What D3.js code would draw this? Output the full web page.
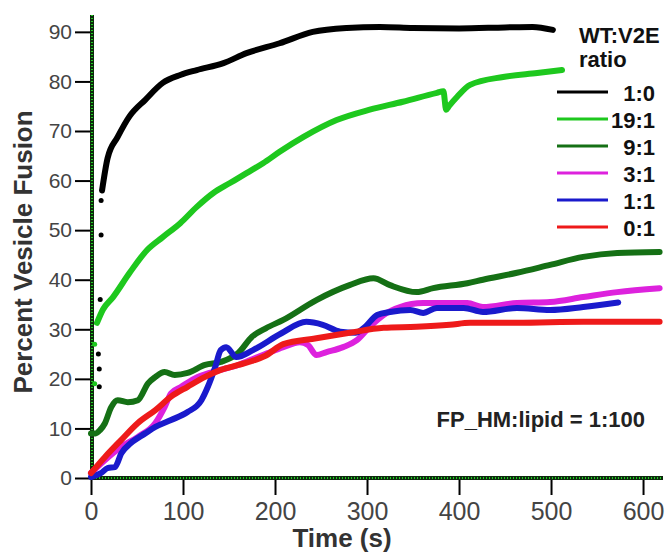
<!DOCTYPE html>
<html>
<head>
<meta charset="utf-8">
<script src="https://cdn.jsdelivr.net/npm/d3@7"></script>
<style>
  body { margin: 0; background: #fff; }
  svg { display: block; font-family: "Liberation Sans", Arial, sans-serif; }
</style>
</head>
<body>
<svg id="chart" width="667" height="555"></svg>
<script>
// fusion curves, [time (s), percent]
let ratio10 = [[12,58],[18,64.5],[29,68.8],[42,73],[59,76.3],[78,79.7],[97,81.3],[115,82.3],[144,83.7],[169,85.7],[205,87.7],[241,90],[278,90.8],[314,91],[350,90.8],[400,90.7],[450,90.9],[480,91],[502,90.4]];
let ratio191 = [[6.5,31.3],[13,34],[24,36.5],[42,41.4],[61,46],[78,48.6],[97,51.4],[115,54.7],[133,57.5],[151,59.5],[169,61.5],[187,63.5],[205,65.8],[231,68.8],[267,72.2],[303,74.3],[339,75.9],[376,77.7],[383,78],[386,74.3],[389,75],[398,76.9],[412,79.3],[448,80.9],[485,81.7],[512,82.3]];
let ratio91 = [[0,9],[5,9],[10,9.7],[15,11],[22,14.3],[29,15.7],[40,15.3],[51,15.7],[62,19.1],[70,20.4],[80,21.4],[91,20.8],[105,21.2],[124,22.8],[141,23.4],[160,25.2],[175,28.5],[190,30.2],[209,31.9],[245,35.9],[281,38.9],[307,40.3],[325,38.9],[354,37.5],[372,38.3],[409,39.3],[426,40],[463,41.4],[499,43],[535,44.6],[572,45.4],[618,45.6]];
let ratio31 = [[0,1],[15,3.6],[33,6.3],[51,8.3],[70,11.1],[80,14.3],[87,17.1],[98,18.4],[116,20.4],[141,21.8],[160,22.8],[176,24],[192,25.2],[209,26.4],[227,27.4],[236,26.8],[245,24.8],[256,25.4],[274,26.4],[289,27.8],[303,30.5],[318,32.9],[336,34.5],[361,35.3],[390,35.3],[409,35.3],[426,34.5],[463,35.3],[499,35.5],[535,36.5],[572,37.5],[618,38.3]];
let ratio11 = [[0,0.2],[11,1],[18,2],[26,2.2],[33,5],[43,7],[59,9],[70,10.3],[87,11.7],[105,13.3],[120,15.7],[127,18.4],[135,22.4],[141,25.8],[147,26.4],[158,24.4],[176,25.8],[207,29.2],[234,31.5],[252,30.9],[271,29.5],[288,29.3],[298,30.5],[311,32.9],[325,33.5],[347,33.9],[361,33.3],[376,34.3],[405,34.3],[426,33.5],[463,34.3],[499,33.9],[535,34.5],[573,35.4]];
let ratio01 = [[0,1],[15,4.2],[33,7.7],[51,11.1],[70,13.7],[87,16.4],[105,18.4],[124,20.4],[141,21.8],[160,22.8],[175,23.6],[189,24.6],[209,27],[245,28.2],[281,29.3],[318,30.3],[354,30.5],[390,30.9],[412,31.3],[463,31.3],[535,31.5],[618,31.5]];

// stray early points before the traces settle
let blackDots = [[9,18.4],[9,22],[8,25],[10,36],[11,49],[11,56]];
let greenDots = [[4,19],[4,27]];

let ratioLabels = ['1:0', '19:1', '9:1', '3:1', '1:1', '0:1'];
let ratioColors = ['#000000', '#1ec81e', '#157015', '#dd22dd', '#1a1acc', '#ee1a1a'];
let yTicks = [0, 10, 20, 30, 40, 50, 60, 70, 80, 90];
let xTicks = [0, 100, 200, 300, 400, 500, 600];

let seriesData = [ratio10, ratio191, ratio91, ratio31, ratio11, ratio01];

let svg = d3.select('#chart');

let x = d3.scaleLinear().domain([0, 621.7]).range([91, 663]);
let y = d3.scaleLinear().domain([0, 93.4]).range([478, 15]);

// axes
let yAxis = d3.axisLeft(y)
  .tickValues(yTicks)
  .tickSize(17)
  .tickSizeOuter(0)
  .tickPadding(3);

let xAxis = d3.axisBottom(x)
  .tickValues(xTicks)
  .tickSize(17)
  .tickSizeOuter(0)
  .tickPadding(7);

let gy = svg.append('g')
  .attr('transform', 'translate(92,0)')
  .call(yAxis);
gy.select('.domain').remove();
gy.selectAll('.tick line').attr('stroke', '#000').attr('stroke-width', 2);
gy.selectAll('.tick text')
  .attr('fill', '#444')
  .style('font-size', '21px');

let gx = svg.append('g')
  .attr('transform', 'translate(0,478)')
  .call(xAxis);
gx.select('.domain').remove();
gx.selectAll('.tick line').attr('stroke', '#000').attr('stroke-width', 2);
gx.selectAll('.tick text')
  .attr('fill', '#444')
  .style('font-size', '25px');

// axis lines, dark with green dots like the original
let axisLines = [
  {x1: 92, y1: 15, x2: 92, y2: 480},
  {x1: 90, y1: 478, x2: 663, y2: 478}
];
svg.selectAll('.axis-line')
  .data(axisLines)
  .enter()
  .append('line')
  .attr('class', 'axis-line')
  .attr('x1', d => d.x1).attr('y1', d => d.y1)
  .attr('x2', d => d.x2).attr('y2', d => d.y2)
  .attr('stroke', '#0c2a0c')
  .attr('stroke-width', 4);
svg.selectAll('.axis-dots')
  .data(axisLines)
  .enter()
  .append('line')
  .attr('class', 'axis-dots')
  .attr('x1', d => d.x1).attr('y1', d => d.y1)
  .attr('x2', d => d.x2).attr('y2', d => d.y2)
  .attr('stroke', '#22cc22')
  .attr('stroke-width', 2)
  .attr('stroke-dasharray', '1,2');

// axis titles
svg.append('text')
  .attr('transform', 'translate(32,252) rotate(-90)')
  .attr('text-anchor', 'middle')
  .attr('fill', '#333')
  .style('font-size', '26px')
  .style('font-weight', 'bold')
  .text('Percent Vesicle Fusion');

svg.append('text')
  .attr('x', 342)
  .attr('y', 547)
  .attr('text-anchor', 'middle')
  .attr('fill', '#333')
  .style('font-size', '26px')
  .style('font-weight', 'bold')
  .text('Time (s)');

// curves
let line = d3.line()
  .x(d => x(d[0]))
  .y(d => y(d[1]))
  .curve(d3.curveMonotoneX);

svg.selectAll('.curve')
  .data(seriesData)
  .enter()
  .append('path')
  .attr('class', 'curve')
  .attr('d', line)
  .attr('fill', 'none')
  .attr('stroke', (d, i) => ratioColors[i])
  .attr('stroke-width', 6)
  .attr('stroke-linejoin', 'round')
  .attr('stroke-linecap', 'round');

svg.selectAll('.black-dot')
  .data(blackDots)
  .enter()
  .append('circle')
  .attr('class', 'black-dot')
  .attr('cx', d => x(d[0]))
  .attr('cy', d => y(d[1]))
  .attr('r', 2.5)
  .attr('fill', '#000');

svg.selectAll('.green-dot')
  .data(greenDots)
  .enter()
  .append('circle')
  .attr('class', 'green-dot')
  .attr('cx', d => x(d[0]))
  .attr('cy', d => y(d[1]))
  .attr('r', 2.5)
  .attr('fill', ratioColors[1]);

// legend
let legend = svg.append('g');

legend.append('text')
  .attr('x', 579).attr('y', 43)
  .attr('fill', '#111')
  .style('font-size', '22px')
  .style('font-weight', 'bold')
  .text('WT:V2E');

legend.append('text')
  .attr('x', 579).attr('y', 67)
  .attr('fill', '#111')
  .style('font-size', '22px')
  .style('font-weight', 'bold')
  .text('ratio');

let rowY = d3.scalePoint().domain(ratioLabels).range([92, 227]);

let rows = legend.selectAll('.legend-row')
  .data(ratioLabels)
  .enter()
  .append('g')
  .attr('class', 'legend-row')
  .attr('transform', d => 'translate(0,' + rowY(d) + ')');

rows.append('line')
  .attr('x1', 557).attr('x2', 608)
  .attr('stroke', (d, i) => ratioColors[i])
  .attr('stroke-width', 3);

rows.append('text')
  .attr('x', 655)
  .attr('y', 9)
  .attr('text-anchor', 'end')
  .attr('fill', '#111')
  .style('font-size', '22px')
  .style('font-weight', 'bold')
  .text(d => d);

// annotation
svg.append('text')
  .attr('x', 645)
  .attr('y', 427)
  .attr('text-anchor', 'end')
  .attr('fill', '#222')
  .style('font-size', '22px')
  .style('font-weight', 'bold')
  .text('FP_HM:lipid = 1:100');
</script>
</body>
</html>
